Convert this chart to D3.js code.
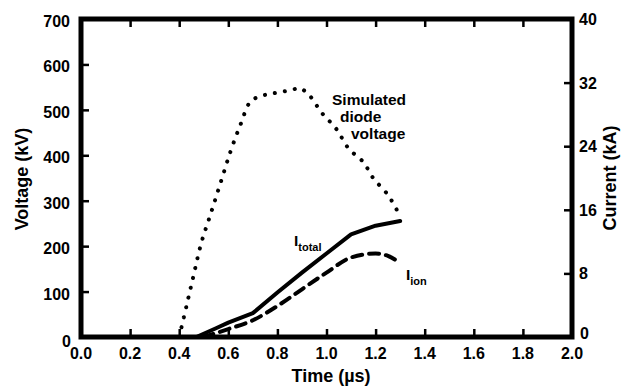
<!DOCTYPE html>
<html><head><meta charset="utf-8">
<script src="https://cdn.jsdelivr.net/npm/d3@7"></script>
<style>
body{margin:0;background:#fff;}
svg text{font-family:"Liberation Sans",Arial,Helvetica,sans-serif;fill:#000;}
</style></head>
<body><svg id="c" width="621" height="387"></svg>
<script>
// ---- data ----
const timeTicks = [0.0,0.2,0.4,0.6,0.8,1.0,1.2,1.4,1.6,1.8,2.0];
const voltTicks = [0,100,200,300,400,500,600,700];
const currTicks = [0,8,16,24,32,40];

// Simulated diode voltage (kV) vs time (µs)
const vTime = [0.40,0.43,0.46,0.49,0.53,0.57,0.61,0.65,0.69,0.73,0.77,0.81,0.86,0.89,0.93,0.98,1.04,1.09,1.15,1.19,1.25,1.29];
const vVolt = [0,69,139,207,274,342,410,468,518,530,535,539,544,548,532,494,458,415,385,350,313,276];

// I_total (kA)
const tTime = [0.47,0.55,0.60,0.70,0.80,0.90,1.00,1.10,1.20,1.30];
const tCurr = [0,1.1,1.8,3.0,5.6,8.1,10.5,12.9,14.0,14.6];

// I_ion (kA)
const iTime = [0.50,0.60,0.70,0.80,0.90,1.00,1.10,1.20,1.25,1.30];
const iCurr = [0,1.0,2.1,3.9,6.0,8.1,10.0,10.5,10.2,9.3];

// ---- layout ----
const L=81, R=572, T=19, B=337;
const svg = d3.select("#c");
const x = d3.scaleLinear().domain([0,2]).range([L,R]);
const yV = d3.scaleLinear().domain([0,700]).range([B,T]);
const yI = d3.scaleLinear().domain([0,40]).range([B,T]);

// curves
const vData = vTime.map((t,i)=>[t,vVolt[i]]);
const tData = tTime.map((t,i)=>[t,tCurr[i]]);
const iData = iTime.map((t,i)=>[t,iCurr[i]]);

svg.append("path").datum(vData)
  .attr("d", d3.line().x(d=>x(d[0])).y(d=>yV(d[1])).curve(d3.curveCatmullRom))
  .attr("fill","none").attr("stroke","#000").attr("stroke-width",4)
  .attr("stroke-linecap","round").attr("stroke-dasharray","0.1 10");

svg.append("path").datum(tData)
  .attr("d", d3.line().x(d=>x(d[0])).y(d=>yI(d[1])))
  .attr("fill","none").attr("stroke","#000").attr("stroke-width",4)
  .attr("stroke-linecap","round").attr("stroke-linejoin","round");

svg.append("path").datum(iData)
  .attr("d", d3.line().x(d=>x(d[0])).y(d=>yI(d[1])).curve(d3.curveMonotoneX))
  .attr("fill","none").attr("stroke","#000").attr("stroke-width",4)
  .attr("stroke-linecap","round").attr("stroke-dasharray","10 7");

// frame axes (ticks inward)
const tk = 8;
const axB = d3.axisTop(x).tickValues(timeTicks.slice(1,-1)).tickSize(tk).tickFormat("");
const axT = d3.axisBottom(x).tickValues(timeTicks.slice(1,-1)).tickSize(tk).tickFormat("");
const axL = d3.axisRight(yV).tickValues(voltTicks.slice(1,-1)).tickSize(tk).tickFormat("");
const axR = d3.axisLeft(yI).tickValues(currTicks.slice(1,-1)).tickSize(tk).tickFormat("");
[[axB,`translate(0,${B})`],[axT,`translate(0,${T})`],[axL,`translate(${L},0)`],[axR,`translate(${R},0)`]].forEach(([a,tr])=>{
  const g = svg.append("g").attr("transform",tr).call(a);
  g.select(".domain").remove();
  g.selectAll(".tick line").attr("stroke","#000").attr("stroke-width",2.5);
});
svg.append("rect").attr("x",L).attr("y",T).attr("width",R-L).attr("height",B-T)
  .attr("fill","none").attr("stroke","#000").attr("stroke-width",5);

// tick labels
const fs = 16;
svg.append("g").selectAll("text").data(timeTicks).join("text")
  .attr("x",d=>x(d)).attr("y",B+22).attr("text-anchor","middle")
  .attr("font-size",fs).attr("font-weight","bold")
  .text(d=>d.toFixed(1));
svg.append("g").selectAll("text").data(voltTicks).join("text")
  .attr("x",d=> d===0 ? L-10 : L-11).attr("y",d=> d===0 ? yV(d)+10 : yV(d)+8)
  .attr("text-anchor","end")
  .attr("font-size",fs).attr("font-weight","bold")
  .text(d=>d);
svg.append("g").selectAll("text").data(currTicks).join("text")
  .attr("x",d=> d===0 ? R+8 : R+7).attr("y",d=> d===0 ? yI(d)+2 : yI(d)+6)
  .attr("text-anchor","start")
  .attr("font-size",fs).attr("font-weight","bold")
  .text(d=>d);

// axis titles
svg.append("text").attr("x",331).attr("y",382).attr("text-anchor","middle")
  .attr("font-size",18).attr("font-weight","bold").text("Time (µs)");
svg.append("text").attr("transform","translate(28,179) rotate(-90)").attr("text-anchor","middle")
  .attr("font-size",18).attr("font-weight","bold").text("Voltage (kV)");
svg.append("text").attr("transform","translate(616,178) rotate(-90)").attr("text-anchor","middle")
  .attr("font-size",18).attr("font-weight","bold").text("Current (kA)");

// annotations
const ann = svg.append("g").attr("font-size",15.5).attr("font-weight","bold");
ann.append("text").attr("x",332).attr("y",105).text("Simulated");
ann.append("text").attr("x",340).attr("y",122).text("diode");
ann.append("text").attr("x",351).attr("y",139).text("voltage");
const it = ann.append("text").attr("x",294).attr("y",246);
it.append("tspan").text("I");
it.append("tspan").attr("dy",5).attr("font-size",11).text("total");
const ii = ann.append("text").attr("x",406).attr("y",280);
ii.append("tspan").text("I");
ii.append("tspan").attr("dy",5).attr("font-size",11).text("ion");
</script></body></html>
